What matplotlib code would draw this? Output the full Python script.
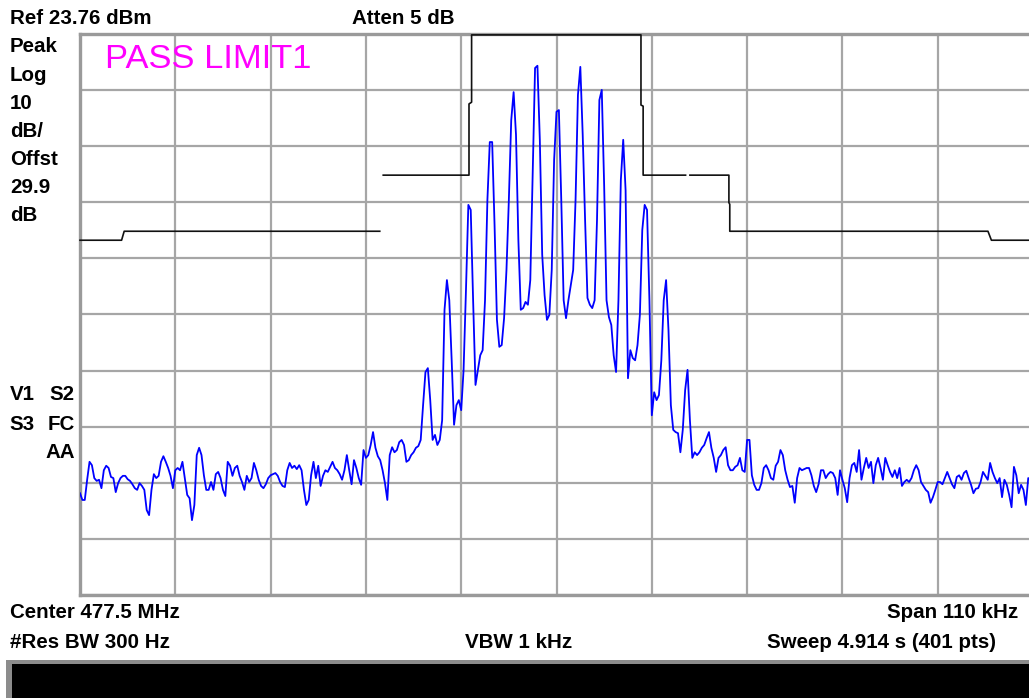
import numpy as np
import matplotlib
matplotlib.use("Agg")
import matplotlib.pyplot as plt

# ---------------- data ----------------
center_mhz = 477.5
span_khz = 110.0
ref_level = 23.76          # dBm
db_per_div = 10.0
n_points = 401

# trace amplitude (dBm), 401 sweep points
trace_dbm = [
    -58.1, -59.3, -59.3, -55.7, -52.5, -53.1, -55.4, -55.9, -55.7, -57.2,
    -54.0, -53.2, -53.6, -55.2, -55.4, -57.9, -56.3, -55.4, -55.0, -55.0,
    -55.6, -55.9, -56.5, -57.2, -57.5, -56.3, -56.8, -57.5, -61.1, -62.0,
    -57.5, -54.7, -55.4, -55.0, -52.5, -51.5, -52.5, -53.6, -55.0, -57.2,
    -54.0, -53.6, -54.0, -52.5, -55.4, -58.4, -59.0, -62.9, -60.2, -51.3,
    -50.0, -51.3, -54.9, -57.5, -57.5, -56.1, -57.5, -54.7, -54.3, -55.4,
    -57.5, -58.6, -52.5, -53.2, -55.0, -53.6, -53.2, -55.0, -56.1, -57.5,
    -55.0, -56.1, -55.4, -52.7, -54.0, -55.7, -56.8, -57.2, -56.5, -55.4,
    -54.9, -54.7, -54.5, -55.0, -56.1, -56.8, -57.0, -54.0, -52.7, -53.6,
    -53.2, -53.8, -53.1, -54.0, -57.5, -60.2, -59.3, -54.9, -52.5, -55.4,
    -53.2, -56.8, -55.0, -54.0, -54.3, -53.4, -52.5, -53.6, -54.0, -54.7,
    -55.7, -54.0, -51.3, -54.0, -56.5, -52.2, -53.6, -55.4, -56.6, -50.4,
    -51.8, -51.3, -49.5, -47.2, -50.0, -51.5, -52.2, -54.0, -56.3, -59.3,
    -51.3, -49.9, -50.8, -50.4, -49.0, -48.6, -49.5, -52.5, -52.2, -51.3,
    -50.8, -50.0, -49.7, -48.6, -42.4, -36.5, -35.8, -41.5, -48.6, -47.7,
    -49.5, -48.6, -45.1, -25.4, -20.1, -23.7, -34.4, -45.9, -42.4, -41.5,
    -43.3, -36.1, -21.9, -6.7, -7.6, -23.7, -38.8, -36.1, -33.5, -32.6,
    -23.7, -5.8, 4.5, 4.5, -10.3, -27.2, -32.0, -31.7, -26.9, -18.3,
    -5.8, 8.4, 13.4, 5.8, -13.0, -25.4, -25.1, -24.0, -24.5, -20.1,
    -1.4, 17.7, 18.1, 4.9, -15.6, -22.8, -27.2, -26.3, -18.3, 1.3,
    9.9, 10.2, -5.8, -23.7, -26.9, -23.7, -21.0, -18.3, -5.8, 12.9,
    17.9, 5.8, -9.4, -23.3, -24.5, -25.1, -23.7, -9.4, 12.0, 13.8,
    -3.2, -23.7, -26.7, -28.1, -33.5, -36.5, -23.7, -2.3, 4.9, -4.1,
    -37.6, -32.6, -34.0, -34.4, -31.7, -26.3, -11.2, -6.7, -7.6, -23.7,
    -44.2, -40.1, -41.5, -40.6, -34.4, -23.7, -20.1, -29.0, -42.4, -46.8,
    -47.2, -47.4, -50.8, -46.8, -39.7, -36.1, -45.1, -51.8, -50.8, -51.3,
    -50.8, -50.0, -49.5, -48.3, -47.2, -50.0, -51.8, -54.3, -51.8, -51.3,
    -50.4, -49.9, -53.1, -54.0, -54.0, -53.4, -53.1, -51.8, -54.0, -54.3,
    -48.6, -48.6, -54.9, -56.6, -57.5, -57.5, -56.3, -53.6, -53.1, -54.0,
    -55.4, -55.7, -53.2, -52.5, -50.4, -51.3, -54.0, -55.7, -57.0, -56.8,
    -59.8, -55.4, -53.6, -54.0, -53.8, -53.6, -53.6, -54.9, -56.8, -57.9,
    -56.5, -54.0, -54.0, -55.4, -54.7, -54.3, -54.5, -55.4, -58.4, -54.0,
    -55.7, -57.2, -59.7, -55.4, -53.1, -52.7, -54.3, -50.4, -55.7, -53.6,
    -51.8, -53.6, -52.5, -56.3, -53.1, -51.8, -53.6, -55.7, -51.8, -53.1,
    -54.3, -55.2, -54.0, -55.4, -53.6, -56.8, -56.1, -55.7, -56.1, -55.4,
    -54.0, -53.1, -54.0, -56.1, -56.8, -57.5, -57.9, -59.8, -58.8, -57.5,
    -56.1, -56.1, -56.5, -55.4, -54.3, -55.4, -56.5, -57.2, -55.2, -54.9,
    -55.7, -54.5, -54.1, -55.4, -56.6, -58.1, -57.3, -57.2, -56.1, -54.3,
    -55.0, -55.7, -52.7, -54.3, -55.4, -56.3, -55.4, -58.8, -55.7, -56.6,
    -58.4, -60.6, -53.4, -54.9, -58.1, -56.6, -57.5, -60.2, -55.4, -55.7,
    -56.1,
]

# limit line (offset from center in kHz, level in dBm); None = gap
limit_khz = [-55.0, -50.2, -49.9, -20.4, None, -20.0, -10.1, -10.1, -9.8, -9.8,
             9.75, 9.75, 10.0, 10.0, 14.9, None, 15.4, 19.9, 19.9, 20.0, 20.0,
             49.8, 50.2, 55.0]
limit_dbm = [-13.0, -13.0, -11.4, -11.4, None, -1.4, -1.4, 11.3, 11.6, 23.6,
             23.6, 11.1, 10.9, -1.4, -1.4, None, -1.4, -1.4, -6.3, -6.6, -11.4,
             -11.4, -13.0, -13.0]

left_labels = ["Peak", "Log", "10", "dB/", "Offst", "29.9", "dB"]

# ---------------- figure ----------------
W, H = 1029, 698
fig = plt.figure(figsize=(W / 100, H / 100), dpi=100)
fig.patch.set_facecolor("white")

def fx(x):
    return x / W

def fy(y):
    return 1 - y / H

ax_left, ax_right, ax_top, ax_bot = 80, 1033, 34, 595
ax = fig.add_axes([fx(ax_left), fy(ax_bot), (ax_right - ax_left) / W, (ax_bot - ax_top) / H])

freq = np.linspace(-span_khz / 2, span_khz / 2, n_points)
ax.plot(freq, trace_dbm, color="#0000FF", lw=1.3, zorder=3)

lk = np.array([np.nan if v is None else v for v in limit_khz])
ld = np.array([np.nan if v is None else v for v in limit_dbm])
ax.plot(lk, ld, color="#111111", lw=1.2, zorder=4, clip_on=False)

bottom_level = ref_level - 10 * db_per_div
ax.set_xlim(-span_khz / 2, span_khz / 2)
ax.set_ylim(bottom_level, ref_level)
ax.set_xticks(np.linspace(-span_khz / 2, span_khz / 2, 11))
ax.set_yticks(np.linspace(bottom_level, ref_level, 11))
ax.tick_params(length=0, labelbottom=False, labelleft=False)
ax.grid(True, color="#A6A6A6", lw=1.6)
ax.set_axisbelow(True)
for side in ["left", "top", "bottom"]:
    ax.spines[side].set_color("#9A9A9A")
    ax.spines[side].set_linewidth(2.4)
ax.spines["right"].set_visible(False)

bold = dict(family="Liberation Sans", fontweight="bold", fontsize=14.8, color="black")

fig.text(fx(10), fy(19), f"Ref {ref_level} dBm", ha="left", va="center", **bold)
fig.text(fx(352), fy(19), "Atten 5 dB", ha="left", va="center", **bold)

for k, lab in enumerate(left_labels):
    fig.text(fx(10), fy(47 + k * 28.1), lab, ha="left", va="center", **bold)

fig.text(fx(10), fy(395), "V1", ha="left", va="center", **bold)
fig.text(fx(75), fy(395), "S2", ha="right", va="center", **bold)
fig.text(fx(35), fy(424), "S3", ha="right", va="center", **bold)
fig.text(fx(75), fy(424), "FC", ha="right", va="center", **bold)
fig.text(fx(75), fy(452), "AA", ha="right", va="center", **bold)

fig.text(fx(105), fy(59), "PASS LIMIT1", ha="left", va="center",
         family="Liberation Sans", fontsize=24.8, color="#FF00FF")

fig.text(fx(10), fy(613), f"Center {center_mhz} MHz", ha="left", va="center", **bold)
fig.text(fx(1018), fy(613), f"Span {span_khz:g} kHz", ha="right", va="center", **bold)
fig.text(fx(10), fy(642), "#Res BW 300 Hz", ha="left", va="center", **bold)
fig.text(fx(519), fy(642), "VBW 1 kHz", ha="center", va="center", **bold)
fig.text(fx(996), fy(642), f"Sweep 4.914 s ({n_points} pts)", ha="right", va="center", **bold)

# bottom status bar
fig.add_artist(plt.Rectangle((fx(6), fy(698)), fx(1029), (698 - 660) / H,
                             facecolor="#8C8C8C", edgecolor="none"))
fig.add_artist(plt.Rectangle((fx(12), fy(698)), fx(1029), (698 - 664) / H,
                             facecolor="black", edgecolor="none"))

fig.savefig("out.png", dpi=100, facecolor="white")
